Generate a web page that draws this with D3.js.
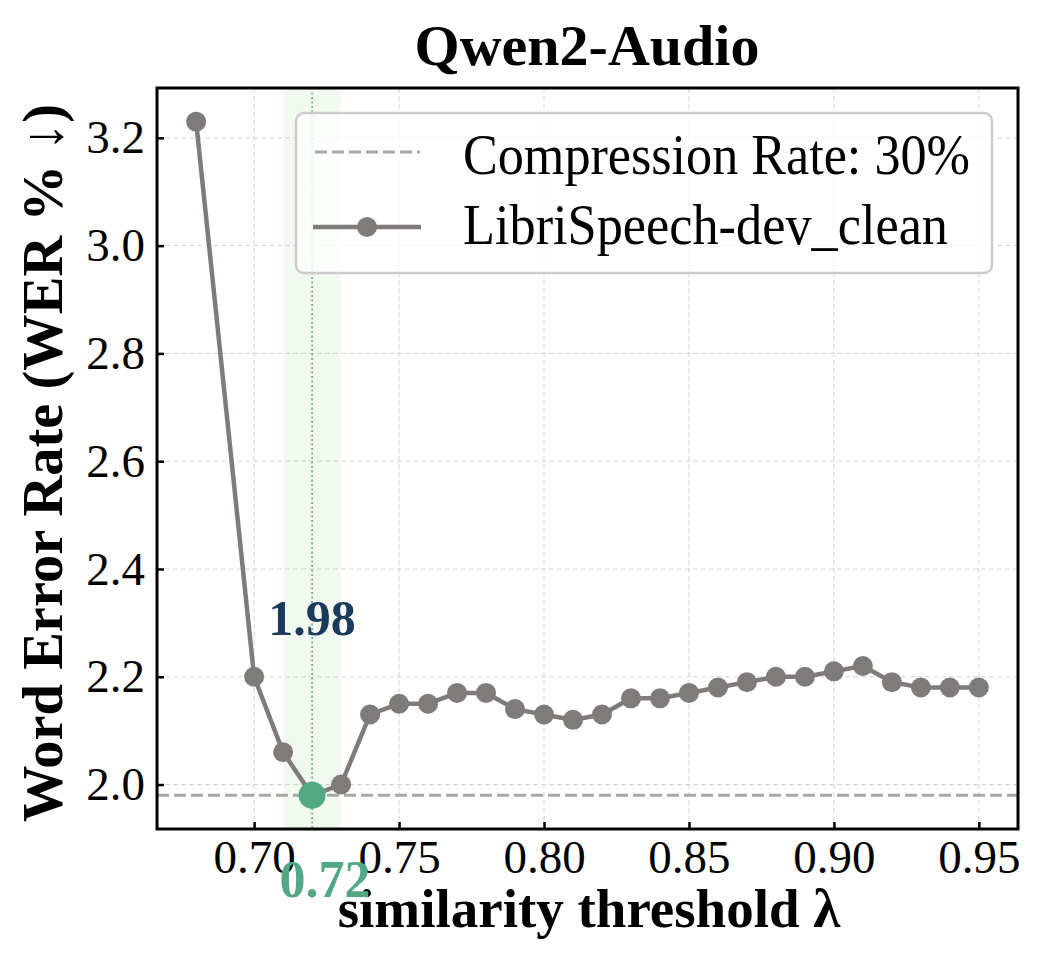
<!DOCTYPE html>
<html>
  <head>
    <meta charset="utf-8">
    <title>Qwen2-Audio</title>
    <style>
      body { margin: 0; background: #fff; }
      text { font-family: "Liberation Serif", "Times New Roman", serif; }
    </style>
  </head>
  <body>
    <div id="container"></div>
    <script src="https://d3js.org/d3.v7.min.js"></script>
    <script>

      // DATA
      var thresholds = [0.68, 0.70, 0.71, 0.72, 0.73, 0.74, 0.75, 0.76, 0.77, 0.78, 0.79, 0.80, 0.81, 0.82,
                        0.83, 0.84, 0.85, 0.86, 0.87, 0.88, 0.89, 0.90, 0.91, 0.92, 0.93, 0.94, 0.95];
      var wer = [3.23, 2.20, 2.06, 1.98, 2.00, 2.13, 2.15, 2.15, 2.17, 2.17, 2.14, 2.13, 2.12, 2.13,
                 2.16, 2.16, 2.17, 2.18, 2.19, 2.20, 2.20, 2.21, 2.22, 2.19, 2.18, 2.18, 2.18];
      var xTicks = [0.70, 0.75, 0.80, 0.85, 0.90, 0.95];
      var yTicks = [2.0, 2.2, 2.4, 2.6, 2.8, 3.0, 3.2];
      var compressionWER = 1.98;
      var bestThreshold = 0.72;
      var bestBand = [0.71, 0.73];
      var legendLabels = ["Compression Rate: 30%", "LibriSpeech-dev_clean"];

      var data = thresholds.map((t, i) => ({ t: t, v: wer[i] }));

      // SET DIMENSIONS & MARGINS
      var W = 1038, H = 954;
      var margin = { top: 88, right: 20, bottom: 125, left: 157 },
        width = W - margin.left - margin.right,
        height = H - margin.top - margin.bottom;

      var svg = d3.select("#container")
        .append("svg")
        .attr("width", W)
        .attr("height", H);

      var g = svg.append("g")
        .attr("transform", "translate(" + margin.left + "," + margin.top + ")");

      // SCALES (matplotlib-style 5% margins)
      var xr = d3.extent(thresholds), xp = (xr[1] - xr[0]) * 0.05;
      var x = d3.scaleLinear().domain([xr[0] - xp, xr[1] + xp]).range([0, width]);
      var yr = d3.extent(wer), yp = (yr[1] - yr[0]) * 0.05;
      var y = d3.scaleLinear().domain([yr[0] - yp, yr[1] + yp]).range([height, 0]);

      // GRID
      g.append("g").selectAll("line").data(xTicks).join("line")
        .attr("x1", d => x(d)).attr("x2", d => x(d))
        .attr("y1", 0).attr("y2", height)
        .attr("stroke", "#d4d4d4").attr("stroke-width", 1).attr("stroke-dasharray", "5,3");
      g.append("g").selectAll("line").data(yTicks).join("line")
        .attr("y1", d => y(d)).attr("y2", d => y(d))
        .attr("x1", 0).attr("x2", width)
        .attr("stroke", "#d4d4d4").attr("stroke-width", 1).attr("stroke-dasharray", "5,3");

      // HIGHLIGHT BAND
      g.append("rect")
        .attr("x", x(bestBand[0])).attr("width", x(bestBand[1]) - x(bestBand[0]))
        .attr("y", 0).attr("height", height)
        .attr("fill", "#4caf50").attr("fill-opacity", 0.08);
      g.append("line")
        .attr("x1", x(bestThreshold)).attr("x2", x(bestThreshold))
        .attr("y1", 0).attr("y2", height)
        .attr("stroke", "#52a884").attr("stroke-width", 1.5).attr("stroke-dasharray", "2,2.5");

      // REFERENCE LINE
      g.append("line")
        .attr("x1", 0).attr("x2", width)
        .attr("y1", y(compressionWER)).attr("y2", y(compressionWER))
        .attr("stroke", "#a8a8a8").attr("stroke-width", 3).attr("stroke-dasharray", "12,5");

      // SERIES
      g.append("path")
        .datum(data)
        .attr("fill", "none")
        .attr("stroke", "#7f7b7b")
        .attr("stroke-width", 4.5)
        .attr("d", d3.line().x(d => x(d.t)).y(d => y(d.v)));
      g.append("g").selectAll("circle").data(data).join("circle")
        .attr("cx", d => x(d.t)).attr("cy", d => y(d.v)).attr("r", 10)
        .attr("fill", "#7f7b7b");

      // BEST POINT
      g.append("circle")
        .attr("cx", x(bestThreshold)).attr("cy", y(compressionWER)).attr("r", 13.5)
        .attr("fill", "#52a884");
      g.append("text")
        .attr("x", x(bestThreshold)).attr("y", 635 - margin.top)
        .attr("text-anchor", "middle")
        .attr("font-size", 50).attr("font-weight", "bold")
        .attr("fill", "#1b3a5c")
        .text(compressionWER.toFixed(2));

      // AXES (ticks inward)
      var xAxis = g.append("g")
        .attr("transform", "translate(0," + height + ")")
        .call(d3.axisBottom(x).tickValues(xTicks).tickFormat(d3.format(".2f")).tickSizeInner(-7).tickSizeOuter(0).tickPadding(11));
      var yAxis = g.append("g")
        .call(d3.axisLeft(y).tickValues(yTicks).tickFormat(d3.format(".1f")).tickSizeInner(-7).tickSizeOuter(0).tickPadding(12));
      [xAxis, yAxis].forEach(a => {
        a.select(".domain").remove();
        a.selectAll(".tick line").attr("stroke", "#000").attr("stroke-width", 2.5);
        a.selectAll(".tick text").attr("font-size", 47).attr("fill", "#000")
          .style("font-family", "'Liberation Serif', serif");
      });
      xAxis.selectAll(".tick text").attr("dy", "0.71em");

      // FRAME
      g.append("rect")
        .attr("x", 0).attr("y", 0).attr("width", width).attr("height", height)
        .attr("fill", "none").attr("stroke", "#000").attr("stroke-width", 3);

      // LEGEND
      var lg = g.append("g").attr("transform", "translate(" + (296 - margin.left) + "," + (113 - margin.top) + ")");
      lg.append("rect")
        .attr("width", 696).attr("height", 160).attr("rx", 8)
        .attr("fill", "#fff").attr("fill-opacity", 0.8)
        .attr("stroke", "#cccccc").attr("stroke-width", 2.5);
      lg.append("line")
        .attr("x1", 19).attr("x2", 124).attr("y1", 39).attr("y2", 39)
        .attr("stroke", "#a8a8a8").attr("stroke-width", 3).attr("stroke-dasharray", "12,5");
      lg.append("line")
        .attr("x1", 17).attr("x2", 125).attr("y1", 114).attr("y2", 114)
        .attr("stroke", "#7f7b7b").attr("stroke-width", 4.5);
      lg.append("circle").attr("cx", 71).attr("cy", 114).attr("r", 10).attr("fill", "#7f7b7b");
      var legendWidths = [507, 485];
      lg.selectAll("text.lbl").data(legendLabels).join("text")
        .attr("class", "lbl")
        .attr("x", 167).attr("y", (d, i) => 61 + i * 70)
        .attr("font-size", 56).attr("fill", "#000")
        .attr("textLength", (d, i) => legendWidths[i])
        .attr("lengthAdjust", "spacingAndGlyphs")
        .text(d => d);

      // TITLES
      svg.append("text")
        .attr("x", 587).attr("y", 65)
        .attr("text-anchor", "middle")
        .attr("font-size", 58).attr("font-weight", "bold")
        .text("Qwen2-Audio");
      svg.append("text")
        .attr("x", 589).attr("y", 927)
        .attr("text-anchor", "middle")
        .attr("font-size", 55).attr("font-weight", "bold")
        .text("similarity threshold λ");
      svg.append("text")
        .attr("transform", "translate(62," + 463 + ") rotate(-90)")
        .attr("text-anchor", "middle")
        .attr("font-size", 56.5).attr("font-weight", "bold")
        .text("Word Error Rate (WER % ↓)");

      // BEST THRESHOLD LABEL
      svg.append("text")
        .attr("x", 325).attr("y", 897)
        .attr("text-anchor", "middle")
        .attr("font-size", 52).attr("font-weight", "bold")
        .attr("fill", "#52a884")
        .text(bestThreshold.toFixed(2));

    </script>
  </body>
</html>
